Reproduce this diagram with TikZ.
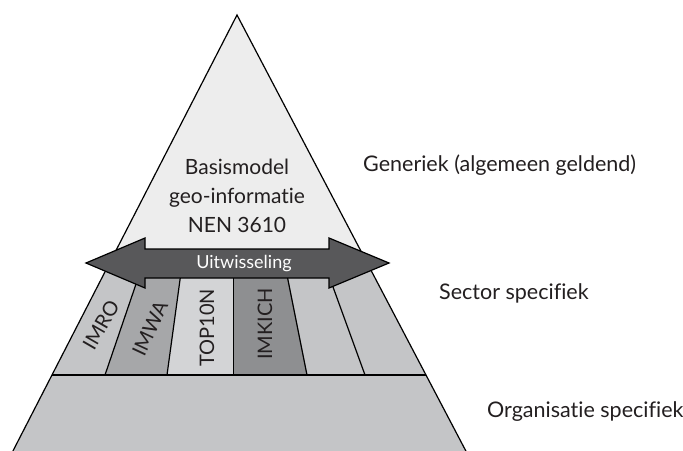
\documentclass[tikz,border=0pt]{standalone}
\usepackage{fontspec}
\setmainfont{Lato}[RawFeature={-liga;-dlig}]
\definecolor{genc}{HTML}{EDEDED}
\definecolor{basec}{HTML}{C4C5C7}
\definecolor{imwac}{HTML}{A6A7A9}
\definecolor{topc}{HTML}{D3D4D6}
\definecolor{imkc}{HTML}{8E8F91}
\definecolor{arrc}{HTML}{58585A}
\definecolor{txtc}{HTML}{231F20}
\tikzset{
  outl/.style={draw=black, line width=1.2pt, line join=miter},
  bigtxt/.style={font=\fontsize{21}{29}\selectfont, text=txtc, align=center, inner sep=0pt},
  sidetxt/.style={font=\fontsize{21.5}{25}\selectfont, text=txtc, anchor=west, inner sep=0pt},
  striptxt/.style={font=\fontsize{20}{24}\selectfont, text=txtc, inner sep=0pt}
}
\begin{document}
\begin{tikzpicture}[x=1pt,y=-1pt]
\useasboundingbox (0,0) rectangle (683,450);
\coordinate (apex) at (237,15);
\coordinate (bl) at (8.3,460);
\coordinate (br) at (470.6,460);
\begin{scope}
\clip (0,0) rectangle (683,450);
\fill[genc] (apex) -- (bl) -- (br) -- cycle;
\begin{scope}
\clip (apex) -- (bl) -- (br) -- cycle;
\fill[basec] (0,263) rectangle (683,460);
\fill[imwac] (143.2,263) -- (182.3,263) -- (167,375) -- (105,375) -- cycle;
\fill[topc] (182.3,263) -- (233.5,263) -- (233.5,375) -- (167,375) -- cycle;
\fill[imkc] (233.5,263) -- (284.6,263) -- (307,375) -- (233.5,375) -- cycle;
\draw[line width=1.2pt] (0,375) -- (683,375);
\draw[line width=1.2pt] (143.2,263) -- (105,375);
\draw[line width=1.2pt] (182.3,263) -- (167,375);
\draw[line width=1.2pt] (233.5,263) -- (233.5,375);
\draw[line width=1.2pt] (284.6,263) -- (307,375);
\draw[line width=1.2pt] (324.3,263) -- (365,375);
\end{scope}
\draw[outl] (bl) -- (apex) -- (br);
\end{scope}
% arrow
\draw[outl, fill=arrc] (86,263) -- (145,238) -- (145,249) -- (329,249) -- (329,238) -- (389,263) -- (329,288) -- (329,278) -- (145,278) -- (145,288) -- cycle;
\node[font=\fontsize{18}{20}\selectfont, text=white, inner sep=0pt] (uit) at (244,264) {Uitwisseling};
% main text
\node[bigtxt] (basis) at (237,196) {Basismodel\\geo-informatie\\NEN 3610};
% strip labels
\node[striptxt, rotate=60] (imro) at (101,325) {IMRO};
\node[striptxt, rotate=65] (imwa) at (150,328) {IMWA};
\node[striptxt, rotate=90] (top) at (207,328) {TOP10N};
\node[striptxt, rotate=90] (imk) at (265,324) {IMKICH};
% side labels
\node[sidetxt] (gen) at (363,165) {Generiek (algemeen geldend)};
\node[sidetxt] (sec) at (439,293) {Sector specifiek};
\node[sidetxt] (org) at (487,412) {Organisatie specifiek};
\end{tikzpicture}
\end{document}
